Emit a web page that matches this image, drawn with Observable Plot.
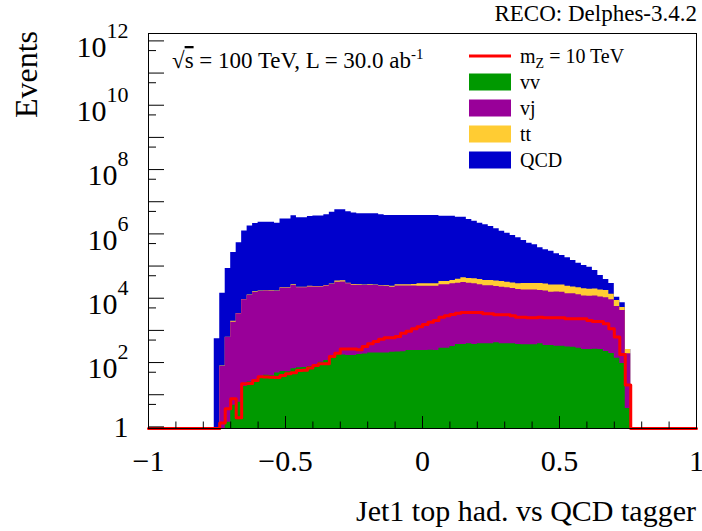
<!DOCTYPE html>
<html>
<head>
<meta charset="utf-8">
<script src="https://cdn.jsdelivr.net/npm/d3@7"></script>
<script src="https://cdn.jsdelivr.net/npm/@observablehq/plot@0.6"></script>
<style>
  body { margin: 0; background: #fff; }
  #chart svg { display: block; }
</style>
</head>
<body>
<div id="chart"></div>
<script>
// Histogram binning: 76 filled bins of width 0.02 starting at -0.76
const binStart = -0.76;
const binWidth = 0.02;

// Background samples (events per bin), bottom of the stack first
const vv = [
  0, 0, 1.4, 4.7, 5.8, 18, 25, 28, 35, 40,
  39, 47, 53, 52, 64, 69, 70, 76, 79, 103,
  116, 139, 183, 173, 167, 166, 179, 183, 199, 198,
  200, 199, 210, 214, 217, 238, 236, 239, 237, 240,
  238, 281, 279, 318, 366, 364, 385, 366, 385, 387,
  384, 414, 385, 386, 384, 366, 361, 359, 358, 385,
  341, 340, 324, 323, 302, 301, 281, 256, 255, 257,
  254, 222, 192, 135, 94, 3.7
];
const vj = [
  0, 76, 603, 1800, 3290, 8950, 12200, 15100, 16200, 16600,
  16500, 16200, 20500, 20400, 24900, 21100, 21200, 22300, 22300, 22300,
  24000, 26700, 31400, 31900, 28000, 25300, 24800, 24700, 24800, 24700,
  23400, 23000, 21900, 23900, 23900, 23800, 23900, 23500, 23400, 23500,
  23400, 25900, 26000, 27900, 29000, 30500, 29000, 27800, 25800, 24000,
  24100, 22800, 21700, 20800, 19700, 18400, 17700, 17800, 17700, 17100,
  16300, 15100, 15200, 15100, 13500, 13400, 12600, 11400, 11300, 11400,
  10700, 10100, 8780, 5420, 4080, 184
];
const tt = [
  0, 1.6, 13, 134, 72, 195, 265, 890, 470, 480,
  485, 470, 600, 590, 1470, 610, 620, 1320, 815, 810,
  880, 975, 2830, 2880, 1240, 1120, 1100, 1090, 1100, 1090,
  1040, 1370, 1300, 2350, 2340, 2360, 2350, 4650, 4600, 4680,
  4640, 6970, 6950, 7500, 9730, 12700, 12000, 12100, 12100, 11300,
  11200, 11400, 10900, 10200, 9690, 9450, 10700, 10750, 10650, 11400,
  11200, 10400, 10450, 10350, 9780, 8620, 8340, 7960, 7550, 7540,
  7120, 6970, 4320, 2980, 1000, 68
];
const qcd = [
  551, 14300, 83500, 263000, 526000, 1224000, 1751000, 2092000, 2296000, 2290000,
  2300000, 2136000, 2888000, 2880000, 3631000, 3148000, 3150000, 3454000, 3582000, 3580000,
  3903000, 4702000, 5579000, 5578000, 4838000, 4440000, 4191000, 4195000, 4190000, 4188000,
  3903000, 3710000, 3712000, 3709000, 3705000, 3712000, 3708000, 3707000, 3702000, 3710000,
  3705000, 3522000, 3525000, 3519000, 3272000, 3267000, 2765000, 2444000, 2115000, 1883000,
  1666000, 1408000, 1183000, 1021000, 863000, 729000, 595000, 486000, 430000, 341700,
  293600, 264500, 215200, 187500, 157600, 126900, 101800, 84800, 73300, 53800,
  32970, 21050, 15490, 2285, 2073, 0
];
// Signal, m_Z = 10 TeV
const signal = [
  0, 1.33, 3.68, 7.5, 1.93, 22, 22.5, 27.9, 36.3, 35.3,
  35.2, 34.5, 39.8, 45, 48.3, 57, 57.2, 67.2, 81.5, 92,
  91.8, 155, 196, 265, 264, 266, 251, 318, 385, 454,
  535, 591, 590, 649, 822, 949, 1127, 1300, 1532, 1806,
  2041, 2584, 2856, 3135, 3438, 3614, 3620, 3610, 3615, 3296,
  3300, 3067, 3070, 3065, 2856, 2584, 2580, 2473, 2470, 2584,
  2473, 2475, 2470, 2472, 2303, 2300, 2305, 2302, 2041, 1898,
  1900, 1611, 1127, 618, 179, 20.2
];

const xTicks = [-1, -0.5, 0, 0.5, 1];
const xTickLabels = ["\u22121", "\u22120.5", "0", "0.5", "1"];
const xMinorTicks = d3.range(-10, 11).map(i => i / 10);
const yDecades = d3.range(0, 13);
const yLabelExponents = [0, 2, 4, 6, 8, 10, 12];

const seriesNames = ["vv", "vj", "tt", "QCD"];
const seriesColors = ["#009900", "#990099", "#ffcc33", "#0000cc"];
const signalColor = "#ff0000";

// ---- derived tables ----
const xDomain = [-1, 1];
const yMin = 10 ** -0.05;
const yMax = 10 ** 12.23;
const clampY = v => (v > yMin ? v : yMin);
const nBins = vv.length;

// cumulative stack tops (THStack style): each layer is filled down to the axis
const cumulative = [];
let running = new Array(nBins).fill(0);
for (const s of [vv, vj, tt, qcd]) {
  running = running.map((r, i) => r + s[i]);
  cumulative.push(running.slice());
}

function stepRows(values, start) {
  const rows = values.map((v, i) => ({x: start + i * binWidth, y: v}));
  rows.push({x: start + values.length * binWidth, y: values[values.length - 1]});
  return rows;
}

// signal over the full axis range (empty bins sit on the axis floor)
const offset = Math.round((binStart - xDomain[0]) / binWidth);
const fullBins = Math.round((xDomain[1] - xDomain[0]) / binWidth);
const signalFull = d3.range(fullBins).map(j => {
  const i = j - offset;
  return i >= 0 && i < nBins ? signal[i] : 0;
});
signalFull.push(0);
const signalRows = signalFull.map((v, j) => ({x: xDomain[0] + j * binWidth, y: v}));

const W = 702, H = 531;
const mL = 148, mR = 6, mT = 33, mB = 103;
const frameW = W - mL - mR, frameH = H - mT - mB;

const layerMarks = [3, 2, 1, 0].map(k =>
  Plot.areaY(stepRows(cumulative[k], binStart), {
    x: "x", y1: yMin, y2: d => clampY(d.y),
    curve: "step-after", fill: seriesColors[k]
  })
);

const yMinor = yDecades.map(e => 5 * 10 ** (e - 1)).filter(v => v > yMin && v < yMax);

const chart = Plot.plot({
  width: W, height: H,
  marginLeft: mL, marginRight: mR, marginTop: mT, marginBottom: mB,
  style: {fontFamily: "Liberation Serif", fontSize: "30px", background: "#fff", color: "#000"},
  x: {domain: xDomain},
  y: {type: "log", domain: [yMin, yMax]},
  marks: [
    ...layerMarks,
    Plot.line(signalRows, {x: "x", y: d => clampY(d.y), curve: "step-after", stroke: signalColor, strokeWidth: 3}),
    Plot.tickY(yDecades.map(e => 10 ** e).filter(v => v >= yMin), {y: d => d, stroke: "#000", insetRight: frameW - 16}),
    Plot.tickY(yMinor, {y: d => d, stroke: "#000", insetRight: frameW - 8}),
    Plot.tickX(xMinorTicks.filter(v => !xTicks.includes(v)), {x: d => d, stroke: "#000", insetTop: frameH - 6.5}),
    Plot.tickX(xTicks, {x: d => d, stroke: "#000", insetTop: frameH - 12}),
    Plot.frame({stroke: "#000"}),
    Plot.axisX({ticks: xTicks, tickSize: 0, tickPadding: 21, label: null,
      tickFormat: d => xTickLabels[xTicks.indexOf(d)]}),
    Plot.axisY({ticks: yLabelExponents.map(e => 10 ** e), tickSize: 0, tickPadding: 20, label: null,
      tickFormat: d => {
        const e = Math.round(Math.log10(d));
        return e === 0 ? "1" : "10^" + e;
      }})
  ]
});
document.getElementById("chart").appendChild(chart);

const svg = d3.select(chart);

// superscripted power-of-ten tick labels
svg.selectAll("text").each(function () {
  const t = this.textContent;
  if (!t.includes("^")) return;
  const [base, sup] = t.split("^");
  const el = d3.select(this);
  el.text(null);
  el.append("tspan").attr("dy", 6).text(base);
  el.append("tspan").attr("dy", -19).attr("font-size", 22).text(sup);
});

// rich text helper: parts = [[string, {dy, size, overline}], ...]
function richText(x, y, parts, {size, anchor = "start", rotate = 0} = {}) {
  const t = svg.append("text")
    .attr("transform", `translate(${x},${y}) rotate(${rotate})`)
    .attr("text-anchor", anchor)
    .attr("font-family", "Liberation Serif")
    .attr("font-size", size)
    .attr("fill", "#000");
  for (const [s, o = {}] of parts) {
    const sp = t.append("tspan").text(s);
    if (o.dy) sp.attr("dy", o.dy);
    if (o.size) sp.attr("font-size", o.size);
    if (o.overline) sp.style("text-decoration", "overline");
  }
  return t;
}

richText(697, 21, [["RECO: Delphes-3.4.2"]], {size: 23, anchor: "end"});
richText(37, 31, [["Events"]], {size: 32, anchor: "end", rotate: -90});
richText(696, 521, [["Jet1 top had. vs QCD tagger"]], {size: 30, anchor: "end"});
richText(172, 68, [["√"], ["s", {overline: true}], [" = 100 TeV, L = 30.0 ab"], ["-1", {dy: -9, size: 15}]], {size: 23});

// legend
const legendX = 469, legendSw = 42, legendTextX = 520, legendY0 = 56, legendStep = 26;
const lg = svg.append("g");
lg.append("line")
  .attr("x1", legendX).attr("x2", legendX + legendSw)
  .attr("y1", legendY0).attr("y2", legendY0)
  .attr("stroke", signalColor).attr("stroke-width", 3);
richText(legendTextX, legendY0 + 7, [["m"], ["Z", {dy: 5, size: 14}], [" = 10 TeV", {dy: -5}]], {size: 20});
seriesNames.forEach((name, i) => {
  const cy = legendY0 + legendStep * (i + 1);
  lg.append("rect")
    .attr("x", legendX).attr("y", cy - 8.5)
    .attr("width", legendSw).attr("height", 17)
    .attr("fill", seriesColors[i]);
  richText(legendTextX, cy + 7, [[name]], {size: 20});
});
</script>
</body>
</html>
